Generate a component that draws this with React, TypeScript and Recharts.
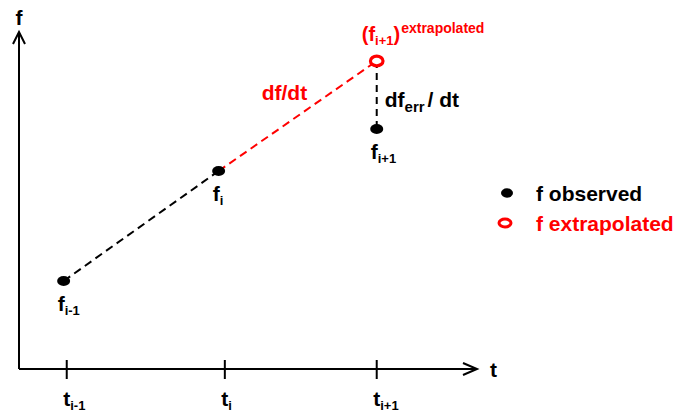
import React from 'react';
import { ComposedChart, Line, Scatter, XAxis, YAxis, Legend, ReferenceDot } from 'recharts';

// ---- data (schematic units) ----
const tickValues = [0, 1.02, 2.0];
const tickSubs = ['i-1', 'i', 'i+1'];

const observedT = [-0.02, 0.98, 2.0];
const observedF = [0.88, 1.98, 2.4];
const observedSubs = ['i-1', 'i', 'i+1'];

const extrapT = [2.0];
const extrapF = [3.08];
const extrapSubs = ['i+1'];

const seriesNames = ['f observed', 'f extrapolated'];
const seriesColors = ['#000000', '#ff0000'];

const slopeText = 'df/dt';
const errText = ['df', 'err', '/ dt'];
const extrapSup = 'extrapolated';
const xAxisName = 't';
const yAxisName = 'f';

// ---- derived tables ----
const observedData = observedT.map((t, i) => ({ t, f: observedF[i], sub: observedSubs[i] }));
const extrapData = extrapT.map((t, i) => ({ t, f: extrapF[i], sub: extrapSubs[i] }));
const trendData = [observedData[0], observedData[1]];
const slopeData = [observedData[1], extrapData[0]];
const errData = [extrapData[0], observedData[2]];
const slopeMid = { t: (slopeData[0].t + slopeData[1].t) / 2, f: (slopeData[0].f + slopeData[1].f) / 2 };
const errMid = { t: (errData[0].t + errData[1].t) / 2, f: (errData[0].f + errData[1].f) / 2 };

const FONT = '"Liberation Sans", Arial, Helvetica, sans-serif';
const MAIN = 21;
const SUB = 13;

const TimeTick = (props: any) => {
  const { x, y, payload } = props;
  let idx = tickValues.indexOf(payload?.value);
  if (idx < 0) idx = props.index ?? 0;
  return (
    <g>
      <line x1={x} x2={x} y1={y - 9} y2={y + 10} stroke="#000" strokeWidth={2} />
      <text x={x - 3.5} y={y + 37} fontFamily={FONT} fontWeight="bold" fontSize={MAIN} fill="#000">
        t<tspan fontSize={SUB} dy={4}>{tickSubs[idx]}</tspan>
      </text>
    </g>
  );
};

const XArrowLabel = (p: any) => {
  const vb = p.viewBox || { x: 19, y: 369, width: 458, height: 43 };
  const tx = vb.x + vb.width;
  const ty = vb.y;
  return (
    <g>
      <path d={`M${tx - 14},${ty - 6} L${tx},${ty} L${tx - 14},${ty + 6}`} fill="none" stroke="#000" strokeWidth={2} />
      <text x={tx + 13} y={ty + 8} fontFamily={FONT} fontWeight="bold" fontSize={MAIN} fill="#000">{xAxisName}</text>
    </g>
  );
};

const YArrowLabel = (p: any) => {
  const vb = p.viewBox || { x: 0, y: 32, width: 19, height: 337 };
  const tx = vb.x + vb.width;
  const ty = vb.y;
  return (
    <g>
      <path d={`M${tx - 6},${ty + 12} L${tx},${ty} L${tx + 6},${ty + 12}`} fill="none" stroke="#000" strokeWidth={2} />
      <text x={tx} y={ty - 7} textAnchor="middle" fontFamily={FONT} fontWeight="bold" fontSize={MAIN} fill="#000">{yAxisName}</text>
    </g>
  );
};

const ObservedShape = (props: any) => {
  const { cx, cy, payload } = props;
  return (
    <g>
      <ellipse cx={cx} cy={cy} rx={6.5} ry={5} fill={seriesColors[0]} />
      <text x={cx - 6} y={cy + 30} fontFamily={FONT} fontWeight="bold" fontSize={MAIN} fill="#000">
        f<tspan fontSize={SUB} dy={4}>{payload?.sub}</tspan>
      </text>
    </g>
  );
};

const ExtrapShape = (props: any) => {
  const { cx, cy, payload } = props;
  return (
    <g>
      <ellipse cx={cx} cy={cy} rx={6.3} ry={4.8} fill="#fff" stroke={seriesColors[1]} strokeWidth={3.2} />
      <text x={cx - 15} y={cy - 20} fontFamily={FONT} fontWeight="bold" fontSize={MAIN - 1} fill={seriesColors[1]}>
        (f<tspan fontSize={SUB} dy={4}>{payload?.sub}</tspan>
        <tspan fontSize={MAIN - 1} dy={-4}>)</tspan>
        <tspan fontSize={14} dy={-8} dx={1}>{extrapSup}</tspan>
      </text>
    </g>
  );
};

const SlopeLabel = (props: any) => {
  const { cx, cy } = props;
  return (
    <text x={cx - 36} y={cy - 16} fontFamily={FONT} fontWeight="bold" fontSize={MAIN} fill={seriesColors[1]}>
      {slopeText}
    </text>
  );
};

const ErrLabel = (props: any) => {
  const { cx, cy } = props;
  return (
    <text x={cx + 8} y={cy + 12} fontFamily={FONT} fontWeight="bold" fontSize={MAIN} fill="#000">
      {errText[0]}
      <tspan fontSize={15} dy={5}>{errText[1]}</tspan>
      <tspan fontSize={MAIN} dy={-5} dx={3}>{errText[2]}</tspan>
    </text>
  );
};

const renderLegend = (props: any) => {
  const items = (props.payload || []).filter((p: any) => p.type !== 'none');
  return (
    <svg width={183} height={64} style={{ display: 'block', overflow: 'visible' }}>
      {items.map((it: any, i: number) => {
        const idx = seriesNames.indexOf(it.value) >= 0 ? seriesNames.indexOf(it.value) : i;
        const y = 15 + idx * 30;
        return (
          <g key={it.value}>
            {idx === 0 ? (
              <ellipse cx={17} cy={y} rx={6} ry={4.7} fill={seriesColors[0]} />
            ) : (
              <ellipse cx={15} cy={y} rx={6} ry={4} fill="#fff" stroke={seriesColors[1]} strokeWidth={3} />
            )}
            <text x={46} y={y + 8} fontFamily={FONT} fontWeight="bold" fontSize={MAIN} fill={seriesColors[idx]}>
              {it.value}
            </text>
          </g>
        );
      })}
    </svg>
  );
};

export default function App() {
  return (
    <div style={{ position: 'absolute', left: 0, top: 0, width: 673, height: 412, background: '#fff' }}>
      <ComposedChart width={673} height={412} margin={{ top: 32, right: 196, bottom: 0, left: 0 }}>
        <XAxis
          dataKey="t"
          type="number"
          domain={[-0.308, 2.647]}
          ticks={tickValues}
          interval={0}
          height={43}
          axisLine={{ stroke: '#000', strokeWidth: 2 }}
          tickLine={false}
          tickSize={0}
          tickMargin={0}
          tick={(p: any) => <TimeTick {...p} />}
          label={{ content: XArrowLabel }}
        />
        <YAxis
          dataKey="f"
          type="number"
          domain={[0, 3.37]}
          width={19}
          tick={false}
          tickLine={false}
          axisLine={{ stroke: '#000', strokeWidth: 2 }}
          label={{ content: YArrowLabel }}
        />
        <Line data={trendData} dataKey="f" stroke="#000" strokeWidth={2} strokeDasharray="8 5" dot={false} activeDot={false} legendType="none" isAnimationActive={false} />
        <Line data={slopeData} dataKey="f" stroke="#ff0000" strokeWidth={2} strokeDasharray="8 5" dot={false} activeDot={false} legendType="none" isAnimationActive={false} />
        <Line data={errData} dataKey="f" stroke="#000" strokeWidth={2} strokeDasharray="7 5" dot={false} activeDot={false} legendType="none" isAnimationActive={false} />
        <Scatter name={seriesNames[0]} data={observedData} dataKey="f" fill={seriesColors[0]} shape={ObservedShape} isAnimationActive={false} />
        <Scatter name={seriesNames[1]} data={extrapData} dataKey="f" fill={seriesColors[1]} shape={ExtrapShape} isAnimationActive={false} />
        <ReferenceDot x={slopeMid.t} y={slopeMid.f} r={0} shape={SlopeLabel} ifOverflow="visible" />
        <ReferenceDot x={errMid.t} y={errMid.f} r={0} shape={ErrLabel} ifOverflow="visible" />
        <Legend
          verticalAlign="middle"
          align="center"
          layout="horizontal"
          wrapperStyle={{ left: 490, top: 178, width: 183, height: 64 }}
          content={renderLegend}
        />
      </ComposedChart>
    </div>
  );
}
